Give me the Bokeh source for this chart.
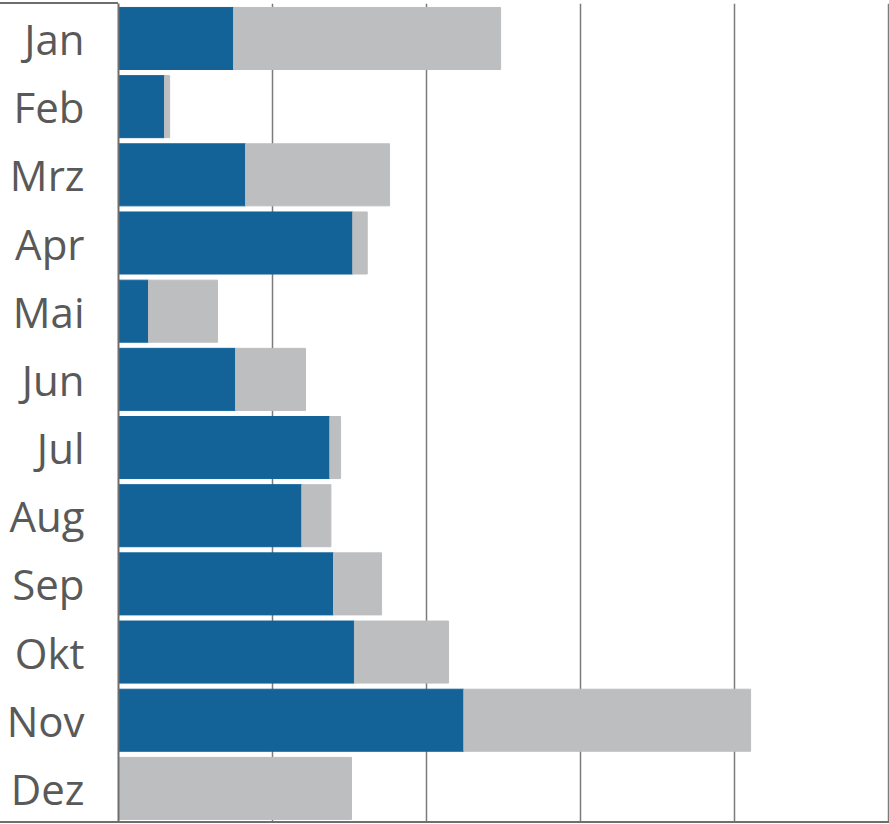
from bokeh.plotting import figure
from bokeh.models import ColumnDataSource, Range1d, FixedTicker, InlineStyleSheet
from bokeh.embed import file_html
from bokeh.resources import INLINE

months = ["Jan", "Feb", "Mrz", "Apr", "Mai", "Jun", "Jul", "Aug", "Sep", "Okt", "Nov", "Dez"]
blue_vals = [7.47, 2.99, 8.25, 15.21, 1.95, 7.60, 13.72, 11.90, 13.96, 15.32, 22.42, 0.0]
gray_vals = [17.34, 0.33, 9.35, 0.94, 4.48, 4.54, 0.70, 1.89, 3.12, 6.11, 18.62, 15.13]
grid_ticks = [0, 10, 20, 30, 40, 50]

W, H = 889, 824
src = ColumnDataSource(dict(y=list(range(len(months))), blue=blue_vals, gray=gray_vals))

p = figure(width=W, height=H, output_backend="svg", toolbar_location=None,
           x_range=Range1d(0, 50.06), y_range=Range1d(11.5, -0.513),
           min_border_left=118, min_border_right=0, min_border_top=3, min_border_bottom=2)
p.hbar_stack(["blue", "gray"], y="y", height=0.91, color=["#136399", "#BDBEC0"], source=src)

p.xaxis.visible = False
p.xgrid.ticker = FixedTicker(ticks=grid_ticks)
p.xgrid.grid_line_color = "#7b7b7b"
p.xgrid.grid_line_width = 1.5
p.ygrid.visible = False
p.outline_line_color = None

ya = p.yaxis[0]
ya.ticker = FixedTicker(ticks=list(range(len(months))))
ya.major_label_overrides = {i: m for i, m in enumerate(months)}
ya.major_tick_out = 0
ya.major_tick_in = 0
ya.minor_tick_out = 0
ya.minor_tick_in = 0
ya.axis_line_color = "#6e6e6e"
ya.axis_line_width = 2
ya.major_label_text_font = "Open Sans"
ya.major_label_text_font_size = "42px"
ya.major_label_text_color = "#595959"
ya.major_label_standoff = 34

css = InlineStyleSheet(css="""
:host { position: relative; }
:host::before { content: ""; position: absolute; left: 0; top: 2px; width: 118px; height: 2px;
  background: #6e6e6e; z-index: 10; pointer-events: none; }
:host::after { content: ""; position: absolute; left: 0; bottom: 1px; width: 100%; height: 2px;
  background: #6e6e6e; z-index: 10; pointer-events: none; }
""")
p.stylesheets = [css]

open("out.html", "w").write(file_html(p, INLINE))
